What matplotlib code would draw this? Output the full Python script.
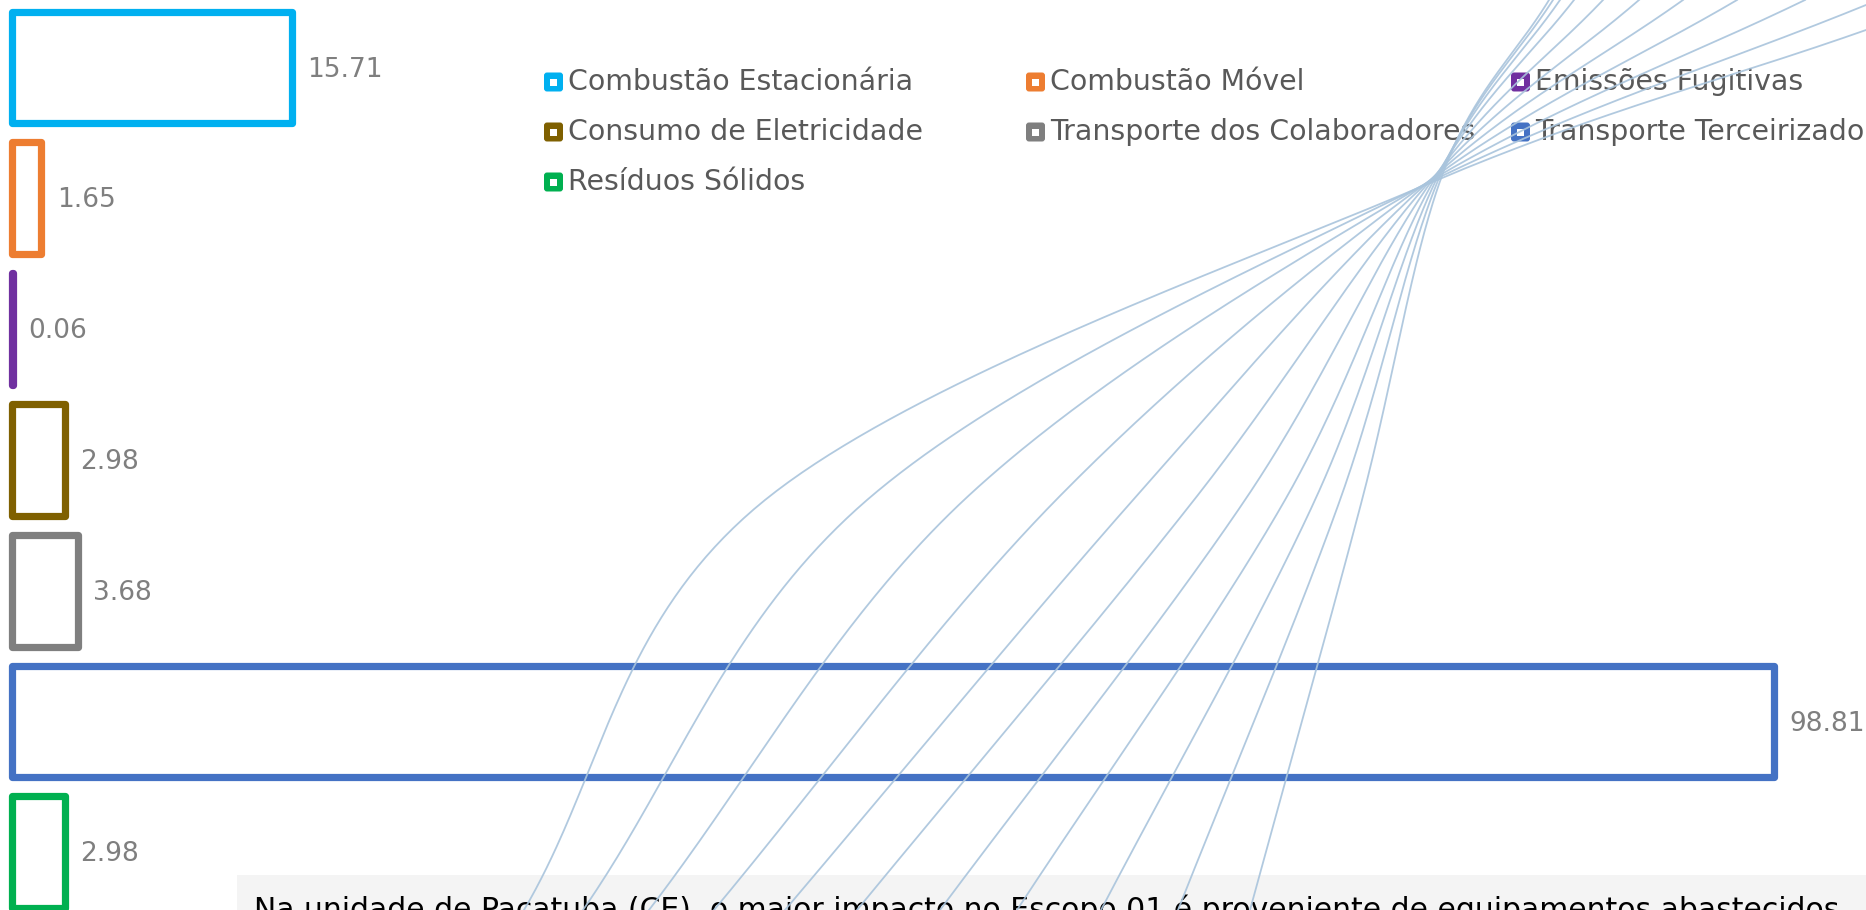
import numpy as np
import matplotlib.pyplot as plt
from matplotlib.patches import Rectangle, FancyBboxPatch

# emissões por fonte (tCO2e)
categories = ['Combustão Estacionária', 'Combustão Móvel', 'Emissões Fugitivas',
              'Consumo de Eletricidade', 'Transporte dos Colaboradores',
              'Transporte Terceirizado', 'Resíduos Sólidos']
values = [15.71, 1.65, 0.06, 2.98, 3.68, 98.81, 2.98]
colors = ['#00B0F0', '#ED7D31', '#7030A0', '#7F6000', '#7F7F7F', '#4472C4', '#00B050']

note = ('Na unidade de Pacatuba (CE), o maior impacto no Escopo 01 é proveniente '
        'de equipamentos abastecidos')

# linhas decorativas do fundo (pixels): base, altura 500, cruzamento, topo
curve_bottom_x = [524, 583, 649, 714, 785, 857, 940, 1017, 1101, 1178, 1250]
curve_mid_x = [765, 867, 964, 1056, 1133, 1194, 1245, 1285, 1315, 1340, 1362]
curve_top = [(1866, 30), (1866, 5), (1805, 0), (1737, 0), (1683, 0), (1639, 0),
             (1603, 0), (1574, 0), (1560, 0), (1553, 0), (1549, 0)]

W, H = 1866, 910


def catmull(pts, n=80):
    p = np.asarray(pts, float)
    p = np.vstack([2 * p[0] - p[1], p, 2 * p[-1] - p[-2]])
    t = np.linspace(0, 1, n)[:, None]
    segs = []
    for i in range(1, len(p) - 2):
        p0, p1, p2, p3 = p[i - 1], p[i], p[i + 1], p[i + 2]
        segs.append(0.5 * (2 * p1 + (-p0 + p2) * t
                           + (2 * p0 - 5 * p1 + 4 * p2 - p3) * t ** 2
                           + (-p0 + 3 * p1 - 3 * p2 + p3) * t ** 3))
    return np.vstack(segs)


fig = plt.figure(figsize=(W / 100, H / 100), dpi=100)

# fundo: caixa de texto
back = fig.add_axes([0, 0, 1, 1])
back.set_xlim(0, W)
back.set_ylim(H, 0)
back.axis('off')
back.add_patch(Rectangle((237, 875), W - 237, 50, facecolor='#f4f4f4', edgecolor='none'))
back.text(254, 919, note, fontsize=21.5, color='black', va='baseline', ha='left')

# barras
ax = fig.add_axes([0, 0, 1, 1])
ax.patch.set_alpha(0)
ax.axis('off')
px_unit, x0 = 17.83, 12
slot, y0 = 130.8, 67.5
ax.set_xlim(-x0 / px_unit, (W - x0) / px_unit)
ax.set_ylim((H - y0) / slot, -y0 / slot)
bars = ax.barh(range(len(values)), values, height=0.856, fill=False,
               edgecolor=colors, linewidth=5.2)
for b in bars:
    b.set_joinstyle('round')
for k, v in enumerate(values):
    ax.annotate(f'{v:.2f}', (v, k), xytext=(11, -1.5), textcoords='offset points',
                va='center', ha='left', fontsize=19, color='#7F7F7F')

# legenda + linhas decorativas por cima
top = fig.add_axes([0, 0, 1, 1])
top.patch.set_alpha(0)
top.set_xlim(0, W)
top.set_ylim(H, 0)
top.axis('off')

leg_x = [544, 1026, 1511]
leg_y = [82, 132, 182]
for k, (name, c) in enumerate(zip(categories, colors)):
    r, col = divmod(k, 3)
    x, y = leg_x[col], leg_y[r]
    top.add_patch(FancyBboxPatch((x, y - 9.5), 19, 19,
                                 boxstyle='round,pad=0,rounding_size=3',
                                 facecolor=c, edgecolor='none', zorder=2))
    top.add_patch(Rectangle((x + 6, y - 3.5), 7, 7, facecolor='white',
                            edgecolor='none', zorder=3))
    top.text(x + 24, y, name, fontsize=20.4, color='#595959', va='center',
             ha='left', zorder=2)

n = len(curve_bottom_x)
for i in range(n):
    qx, qy = 1418 + 2.5 * i, 188 - 1.5 * i
    pts = [(curve_bottom_x[i], H), (curve_mid_x[i], 500), (qx, qy), curve_top[i]]
    xy = catmull(pts)
    top.plot(xy[:, 0], xy[:, 1], color='#a9c4dc', lw=1.3, alpha=0.9, zorder=5)

fig.savefig('out.png', dpi=100)
